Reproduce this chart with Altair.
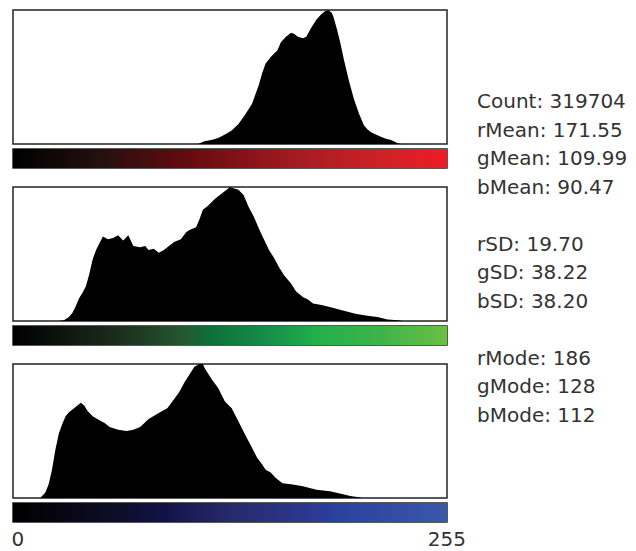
import altair as alt
import pandas as pd

# ---- histogram data (relative frequency, 1.0 = mode) ----
red_bins = [109, 113, 117, 121, 125, 129, 133, 137, 141, 145, 147, 149, 152, 156, 158, 161, 164, 166, 168,
            171, 173, 176, 179, 182, 184, 186, 188, 189, 191, 193, 195, 198, 201, 204, 207, 209, 211, 214,
            217, 220, 223, 227, 229]
red_level = [0, 0.02, 0.03, 0.045, 0.07, 0.10, 0.15, 0.22, 0.30, 0.44, 0.53, 0.60, 0.65, 0.70, 0.76, 0.80,
             0.83, 0.82, 0.80, 0.79, 0.80, 0.87, 0.93, 0.97, 0.99, 1.0, 0.98, 0.95, 0.86, 0.76, 0.64, 0.48,
             0.34, 0.23, 0.14, 0.11, 0.09, 0.07, 0.055, 0.04, 0.03, 0.005, 0]

green_bins = [27, 30, 33, 35, 37, 39, 41, 43, 45, 47, 49, 51, 53, 56, 59, 62, 65, 68, 71, 75, 78, 80, 83, 86,
              89, 92, 95, 99, 102, 104, 108, 110, 112, 115, 119, 122, 126, 128, 130, 133, 136, 139, 142, 145,
              148, 151, 154, 157, 160, 164, 167, 171, 174, 177, 182, 188, 194, 202, 209, 215, 221, 227, 230]
green_level = [0, 0.005, 0.03, 0.06, 0.11, 0.17, 0.21, 0.26, 0.35, 0.46, 0.53, 0.58, 0.63, 0.61, 0.62, 0.64,
               0.60, 0.64, 0.56, 0.55, 0.56, 0.53, 0.54, 0.51, 0.53, 0.56, 0.59, 0.61, 0.66, 0.68, 0.70, 0.76,
               0.83, 0.86, 0.91, 0.94, 0.98, 1.0, 0.99, 0.98, 0.94, 0.85, 0.78, 0.69, 0.61, 0.53, 0.47, 0.40,
               0.34, 0.28, 0.22, 0.18, 0.16, 0.13, 0.12, 0.10, 0.08, 0.055, 0.04, 0.03, 0.012, 0.005, 0]

blue_bins = [16, 19, 21, 23, 25, 27, 29, 31, 33, 36, 38, 40, 42, 44, 47, 51, 54, 57, 62, 67, 71, 75, 80, 84,
             88, 91, 94, 98, 101, 104, 107, 110, 112, 113, 117, 121, 125, 129, 133, 137, 140, 144, 147, 149,
             152, 155, 159, 165, 171, 179, 187, 194, 199, 204, 206]
blue_level = [0, 0.04, 0.10, 0.21, 0.36, 0.48, 0.55, 0.61, 0.64, 0.67, 0.69, 0.71, 0.69, 0.65, 0.61, 0.58,
              0.56, 0.53, 0.51, 0.50, 0.51, 0.53, 0.59, 0.62, 0.65, 0.67, 0.72, 0.79, 0.86, 0.92, 0.98, 1.0,
              1.0, 0.97, 0.89, 0.82, 0.72, 0.67, 0.57, 0.47, 0.40, 0.30, 0.25, 0.21, 0.19, 0.15, 0.11, 0.10,
              0.087, 0.062, 0.05, 0.03, 0.014, 0.005, 0]

# ---- colour ramps of the LUT bars ----
red_ramp = [(0.0, "#000000"), (0.2, "#241010"), (0.38, "#5e0b0e"), (0.42, "#6a0c10"),
            (0.65, "#a31b22"), (0.85, "#cf2128"), (1.0, "#ee1c24")]
green_ramp = [(0.0, "#000000"), (0.25, "#1c2e1e"), (0.4, "#245a30"), (0.45, "#0e6e36"),
              (0.6, "#17914a"), (0.7, "#22b04b"), (0.85, "#3fb34a"), (1.0, "#6cbf45")]
blue_ramp = [(0.0, "#000000"), (0.25, "#0e0e2a"), (0.35, "#12124a"), (0.5, "#27296a"),
             (0.7, "#2d3a92"), (0.73, "#2a3f9e"), (1.0, "#3a58a8")]

# ---- statistics text ----
stat_labels = ["Count:", "rMean:", "gMean:", "bMean:", "rSD:", "gSD:", "bSD:", "rMode:", "gMode:", "bMode:"]
stat_values = ["319704", "171.55", "109.99", "90.47", "19.70", "38.22", "38.20", "186", "128", "112"]
stat_rows = [0, 1, 2, 3, 5, 6, 7, 9, 10, 11]

axis_ticks = [0, 255]

W = 434
H = 134
BAR_H = 19
FONT = "DejaVu Sans"
TXT = "#333333"
box = alt.ViewBackground(stroke="#222222", strokeWidth=1.5, fill="white")


def hist(bins, levels):
    df = pd.DataFrame({"bin": bins, "level": levels})
    return alt.Chart(df).mark_area(color="black", interpolate="linear").encode(
        x=alt.X("bin:Q", scale=alt.Scale(domain=[0, 256], nice=False, zero=False), axis=None),
        y=alt.Y("level:Q", scale=alt.Scale(domain=[0, 1], nice=False), axis=None),
    ).properties(width=W, height=H, view=box)


def cbar(ramp, show_axis):
    df = pd.DataFrame({"lo": [0], "hi": [256]})
    grad = {"gradient": "linear", "x1": 0, "x2": 1, "y1": 0, "y2": 0,
            "stops": [{"offset": o, "color": c} for o, c in ramp]}
    if show_axis:
        ax = alt.Axis(values=axis_ticks, labelFlush=False, ticks=False, tickSize=0, domain=False,
                      grid=False, labelFontSize=20, labelFont=FONT, labelColor=TXT,
                      labelAlign={"condition": {"test": "datum.value == 0", "value": "left"},
                                  "value": "center"},
                      labelOffset={"condition": {"test": "datum.value == 0", "value": -2},
                                   "value": 1},
                      labelPadding=7, title=None, format="d")
    else:
        ax = None
    return alt.Chart(df).mark_rect(color=grad).encode(
        x=alt.X("lo:Q", scale=alt.Scale(domain=[0, 256], nice=False, zero=False), axis=ax),
        x2="hi:Q",
    ).properties(width=W, height=BAR_H, view=box)


panel_r = alt.vconcat(hist(red_bins, red_level), cbar(red_ramp, False), spacing=3)
panel_g = alt.vconcat(hist(green_bins, green_level), cbar(green_ramp, False), spacing=3)
panel_b = alt.vconcat(hist(blue_bins, blue_level), cbar(blue_ramp, True), spacing=3)
left = alt.vconcat(panel_r, panel_g, panel_b, spacing=17)

TH = 420
ROW = 28.5
first = 92.0
lo = -first / ROW
hi = lo + TH / ROW
tdf = pd.DataFrame({"row": stat_rows,
                    "txt": [f"{l} {v}" for l, v in zip(stat_labels, stat_values)]})
text = alt.Chart(tdf).mark_text(align="left", baseline="middle", font=FONT, fontSize=20,
                                color=TXT).encode(
    x=alt.value(0),
    y=alt.Y("row:Q", scale=alt.Scale(domain=[lo, hi], nice=False, zero=False, reverse=True), axis=None),
    text="txt:N",
).properties(width=120, height=TH, view=alt.ViewBackground(stroke="transparent"))

# the "255" label reaches ~18px past the plot area, so the gap to the text column is reduced by that
chart = alt.hconcat(left, text, spacing=9).properties(
    padding={"left": 2, "top": 1, "right": 0, "bottom": 0},
    background="white",
).configure_view(stroke="transparent")

chart.save("out.html", embed_options={"renderer": "svg", "actions": False})
